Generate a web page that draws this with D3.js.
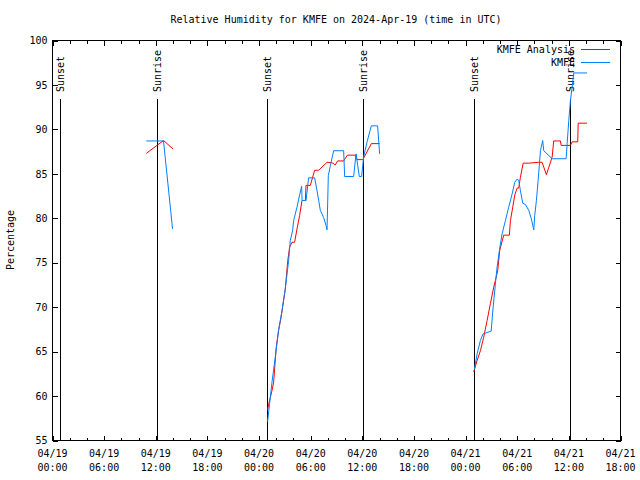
<!DOCTYPE html>
<html>
<head>
<meta charset="utf-8">
<script src="https://cdn.jsdelivr.net/npm/d3@7"></script>
<style>
  html, body { margin: 0; padding: 0; background: #fff; }
  svg { display: block; }
  text { font-family: "DejaVu Sans Mono", "Liberation Mono", monospace; font-size: 10px; fill: #000; }
</style>
</head>
<body>
<svg id="chart" width="640" height="480"></svg>
<script>
// ---------------- data (hours after 2024-04-19 00:00 UTC) ----------------
const chartTitle = "Relative Humidity for KMFE on 2024-Apr-19 (time in UTC)";
const yTitle = "Percentage";
const seriesNames = ["KMFE Analysis", "KMFE"];
const yTicks = [55, 60, 65, 70, 75, 80, 85, 90, 95, 100];

// KMFE Analysis (null = gap)
const analysisHours = [10.9, 12.9, 14.0, null,
  24.99, 25.11, 25.5, 25.69, 26.0, 26.27, 26.55, 26.85, 27.05, 27.32, 27.55, 27.83, 28.13, 28.45, 28.71, 28.99,
  29.38, 29.46, 29.96, 30.46, 30.92, 31.9, 32.48, 32.86, 33.13, 33.83, 34.26, 35.19, 35.39, 36.06, 37.05, 38.01, null,
  48.94, 49.34, 49.72, 50.1, 50.5, 50.88, 51.27, 51.46, 51.73, 51.97, 52.43, 53.09, 53.21, 53.48, 53.71, 53.99,
  54.17, 54.37, 54.69, 55.34, 56.5, 56.89, 57.39, 58.06, 58.24, 59.02, 59.1, 60.18, 60.38, 61.03, 61.08, 62.12];
const analysisValues = [87.3, 88.75, 87.8, null,
  58.4, 59.05, 60.6, 61.5, 65.5, 67.4, 68.8, 70.75, 72.0, 75.1, 76.75, 77.3, 77.3, 79.0, 80.3, 82.0,
  82.0, 83.7, 83.7, 85.4, 85.4, 86.3, 86.25, 86.0, 86.45, 86.45, 87.1, 87.1, 86.6, 86.6, 88.4, 88.4, null,
  62.7, 64.0, 65.1, 66.6, 68.5, 70.4, 72.25, 73.0, 74.1, 76.4, 78.1, 78.1, 79.75, 81.25, 82.6, 83.4,
  83.4, 84.6, 86.2, 86.2, 86.3, 86.3, 84.9, 86.9, 88.7, 88.7, 88.2, 88.2, 88.6, 88.6, 90.7, 90.7];

// KMFE observations (null = gap)
const obsHours = [10.9, 12.9, 13.95, null,
  24.99, 25.51, 25.89, 26.27, 26.67, 27.05, 27.44, 27.63, 27.9, 28.02, 28.41, 28.71, 28.95, 29.0, 29.46, 29.76,
  30.46, 30.74, 31.12, 31.5, 31.78, 31.9, 32.05, 32.28, 32.67, 33.83, 33.95, 34.99, 35.27, 35.65, 35.92, 36.15,
  36.55, 37.05, 37.78, 38.01, null,
  49.03, 49.34, 49.72, 50.03, 50.97, 51.2, 51.46, 51.66, 51.93, 52.24, 52.63, 53.01, 53.41, 53.71, 53.99, 54.17,
  54.37, 54.64, 54.95, 55.34, 55.65, 55.92, 56.03, 56.23, 56.43, 56.7, 56.96, 57.08, 58.06, 59.68, 59.8, 59.99,
  60.18, 60.38, 60.57, 62.12];
const obsValues = [88.7, 88.7, 78.8, null,
  57.1, 61.6, 64.4, 67.4, 69.6, 72.1, 75.25, 77.5, 78.6, 79.75, 81.25, 82.6, 83.6, 82.0, 82.0, 84.55,
  84.55, 83.1, 80.9, 80.1, 79.2, 78.7, 84.8, 85.9, 87.6, 87.6, 84.7, 84.7, 87.25, 84.7, 84.7, 86.9,
  88.6, 90.4, 90.4, 87.25, null,
  63.05, 64.75, 66.25, 67.0, 67.3, 70.0, 72.6, 74.5, 76.4, 78.25, 79.75, 81.25, 82.75, 84.05, 84.4, 84.3,
  83.1, 81.7, 81.55, 80.9, 79.9, 78.7, 80.3, 82.0, 84.25, 87.6, 88.75, 87.6, 86.7, 86.7, 88.4, 91.0,
  93.25, 94.75, 96.35, 96.35];

// sun events
const sunLabels = ["Sunset", "Sunrise", "Sunset", "Sunrise", "Sunset", "Sunrise"];
const sunHours = [0.93, 12.21, 24.94, 36.1, 48.99, 60.22];

// ---------------- chart ----------------
const base = Date.UTC(2024, 3, 19, 0, 0);
const toDate = h => new Date(base + h * 3600e3);
const xStart = toDate(0), xEnd = toDate(66);

const L = 52.5, R = 620.5, T = 40.5, B = 440.5;
const svg = d3.select("#chart");

const x = d3.scaleUtc().domain([xStart, xEnd]).range([L, R]);
const y = d3.scaleLinear().domain([55, 100]).range([B, T]);

const majorTicks = d3.utcHour.every(6).range(xStart, toDate(66.01));
const minorTicks = d3.utcHour.every(2).range(xStart, toDate(66.01));

// title
svg.append("text").attr("x", 336).attr("y", 23).attr("text-anchor", "middle").text(chartTitle);

// y axis title
svg.append("text").attr("transform", "translate(14,240) rotate(-90)")
  .attr("text-anchor", "middle").text(yTitle);

// axes
const gBottomMinor = svg.append("g").attr("transform", `translate(0,${B})`)
  .call(d3.axisBottom(x).tickValues(minorTicks).tickSize(-3).tickFormat(""));
const gTopMinor = svg.append("g").attr("transform", `translate(0,${T})`)
  .call(d3.axisTop(x).tickValues(minorTicks).tickSize(-3).tickFormat(""));
const gBottom = svg.append("g").attr("transform", `translate(0,${B})`)
  .call(d3.axisBottom(x).tickValues(majorTicks).tickSize(-5).tickPadding(0).tickFormat(""));
const gTop = svg.append("g").attr("transform", `translate(0,${T})`)
  .call(d3.axisTop(x).tickValues(majorTicks).tickSize(-5).tickFormat(""));
const gLeft = svg.append("g").attr("transform", `translate(${L},0)`)
  .call(d3.axisLeft(y).tickValues(yTicks).tickSize(-5).tickPadding(5).tickFormat(d3.format("d")));
const gRight = svg.append("g").attr("transform", `translate(${R},0)`)
  .call(d3.axisRight(y).tickValues(yTicks).tickSize(-5).tickFormat(""));

[gBottomMinor, gTopMinor, gBottom, gTop, gLeft, gRight].forEach(g => {
  g.select(".domain").remove();
  g.selectAll("line").attr("stroke", "#000").attr("shape-rendering", "crispEdges");
  g.selectAll("text").attr("font-family", null).attr("font-size", null);
});
gLeft.selectAll("text").attr("fill", "#000");

// two-line x labels
const fmtDate = d3.utcFormat("%m/%d"), fmtTime = d3.utcFormat("%H:%M");
const xl = svg.append("g");
majorTicks.forEach(d => {
  const t = xl.append("text").attr("text-anchor", "middle");
  t.append("tspan").attr("x", x(d)).attr("y", 457).text(fmtDate(d));
  t.append("tspan").attr("x", x(d)).attr("y", 471).text(fmtTime(d));
});

// frame
svg.append("rect").attr("x", L).attr("y", T).attr("width", R - L).attr("height", B - T)
  .attr("fill", "none").attr("stroke", "#000").attr("shape-rendering", "crispEdges");

// sun lines
sunHours.forEach((h, i) => {
  const xp = Math.floor(x(toDate(h))) + 0.5;
  svg.append("line").attr("x1", xp).attr("x2", xp).attr("y1", 99).attr("y2", B)
    .attr("stroke", "#000").attr("shape-rendering", "crispEdges");
  svg.append("text").attr("transform", `translate(${xp + 3.5},92) rotate(-90)`)
    .attr("text-anchor", "start").text(sunLabels[i]);
});

// lines
const line = d3.line()
  .defined(d => d[1] != null)
  .x(d => x(toDate(d[0])))
  .y(d => y(d[1]));

const analysisData = analysisHours.map((h, i) => [h, analysisValues[i]]);
const obsData = obsHours.map((h, i) => [h, obsValues[i]]);

svg.append("path").datum(analysisData).attr("d", line)
  .attr("fill", "none").attr("stroke", "#ff0000").attr("stroke-width", 1);
svg.append("path").datum(obsData).attr("d", line)
  .attr("fill", "none").attr("stroke", "#0080ff").attr("stroke-width", 1);

// legend
const legColors = ["#ff0000", "#0080ff"];
seriesNames.forEach((n, i) => {
  const yy = 49.5 + i * 13;
  svg.append("text").attr("x", 575).attr("y", yy + 3.5).attr("text-anchor", "end").text(n);
  svg.append("line").attr("x1", 581).attr("x2", 610).attr("y1", yy).attr("y2", yy)
    .attr("stroke", legColors[i]).attr("shape-rendering", "crispEdges");
});
</script>
</body>
</html>
